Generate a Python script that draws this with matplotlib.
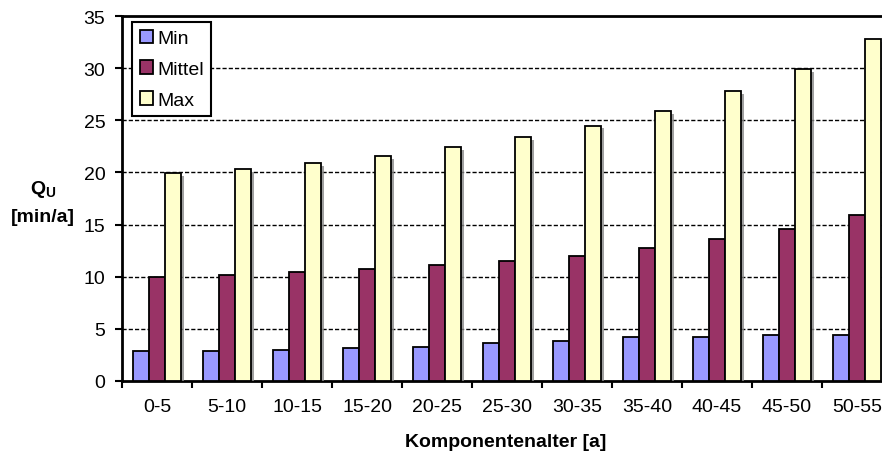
import matplotlib
matplotlib.use('Agg')
import matplotlib.pyplot as plt
import matplotlib.patheffects as pe
import numpy as np

plt.rcParams.update({
    'font.family': ['Liberation Sans', 'DejaVu Sans'],
    'font.size': 14,
    'mathtext.fontset': 'custom',
    'mathtext.rm': 'Liberation Sans',
    'mathtext.bf': 'Liberation Sans:bold',
})

# data
categories = ['0-5', '5-10', '10-15', '15-20', '20-25', '25-30',
              '30-35', '35-40', '40-45', '45-50', '50-55']
q_min = [2.9, 2.9, 3.0, 3.2, 3.3, 3.6, 3.8, 4.2, 4.25, 4.4, 4.4]
q_mittel = [10.0, 10.2, 10.5, 10.7, 11.1, 11.5, 12.0, 12.8, 13.6, 14.6, 15.9]
q_max = [19.9, 20.3, 20.9, 21.6, 22.4, 23.4, 24.5, 25.9, 27.8, 29.9, 32.8]

series = [('Min', q_min, '#9999FF'),
          ('Mittel', q_mittel, '#993366'),
          ('Max', q_max, '#FFFFCC')]

W, H = 882, 460
fig = plt.figure(figsize=(W / 100, H / 100), dpi=100)
# plot area is cut off at the right edge in the original
ax = fig.add_axes([122 / W, 78 / H, 770 / W, 365 / H])

x = np.arange(len(categories))
bw = 0.229
shadow = [pe.SimplePatchShadow(offset=(2, -2), shadow_rgbFace='#888888', alpha=0.8),
          pe.Normal()]
for i, (name, vals, col) in enumerate(series):
    bars = ax.bar(x + (i - 1) * bw, vals, bw, color=col, edgecolor='black',
                  linewidth=1.3, label=name, zorder=3)
    for b in bars:
        b.set_path_effects(shadow)

ax.set_xlim(-0.5, len(categories) - 0.5)
ax.set_ylim(0, 35)
ax.set_yticks(range(0, 36, 5))

# category labels at centres, tick marks at group boundaries
ax.set_xticks(x)
ax.set_xticklabels(categories)
ax.set_xticks(np.arange(-0.5, len(categories), 1), minor=True)
ax.tick_params(axis='x', which='major', length=0, pad=12)
ax.tick_params(axis='x', which='minor', length=5, width=1.5, direction='out')
ax.tick_params(axis='y', length=5, width=1.5, direction='out', pad=7)

for s in ['left', 'bottom', 'top']:
    ax.spines[s].set_linewidth(2)
ax.spines['right'].set_visible(False)

for yv in range(5, 35, 5):
    ax.axhline(yv, color='black', linewidth=1, linestyle=(0, (3, 1.5)), zorder=1)

leg = ax.legend(loc='upper left', bbox_to_anchor=(132 / W, 1 - 23 / H),
                bbox_transform=fig.transFigure, fancybox=False,
                edgecolor='black', framealpha=1, borderpad=0.4,
                handlelength=0.68, handleheight=0.68, handletextpad=0.2,
                labelspacing=0.68, borderaxespad=0)
leg.get_frame().set_linewidth(1.5)
for h in leg.legend_handles:
    h.set_path_effects([])

fig.text(43 / W, 1 - 190 / H, r'$\mathbf{Q}_\mathbf{U}$', ha='center', va='center',
         fontsize=14, fontweight='bold')
fig.text(43 / W, 1 - 217 / H, '[min/a]', ha='center', va='center',
         fontsize=14, fontweight='bold')
fig.text(506 / W, 1 - 443 / H, 'Komponentenalter [a]', ha='center', va='center',
         fontsize=14, fontweight='bold')

fig.savefig('out.png', dpi=100)
